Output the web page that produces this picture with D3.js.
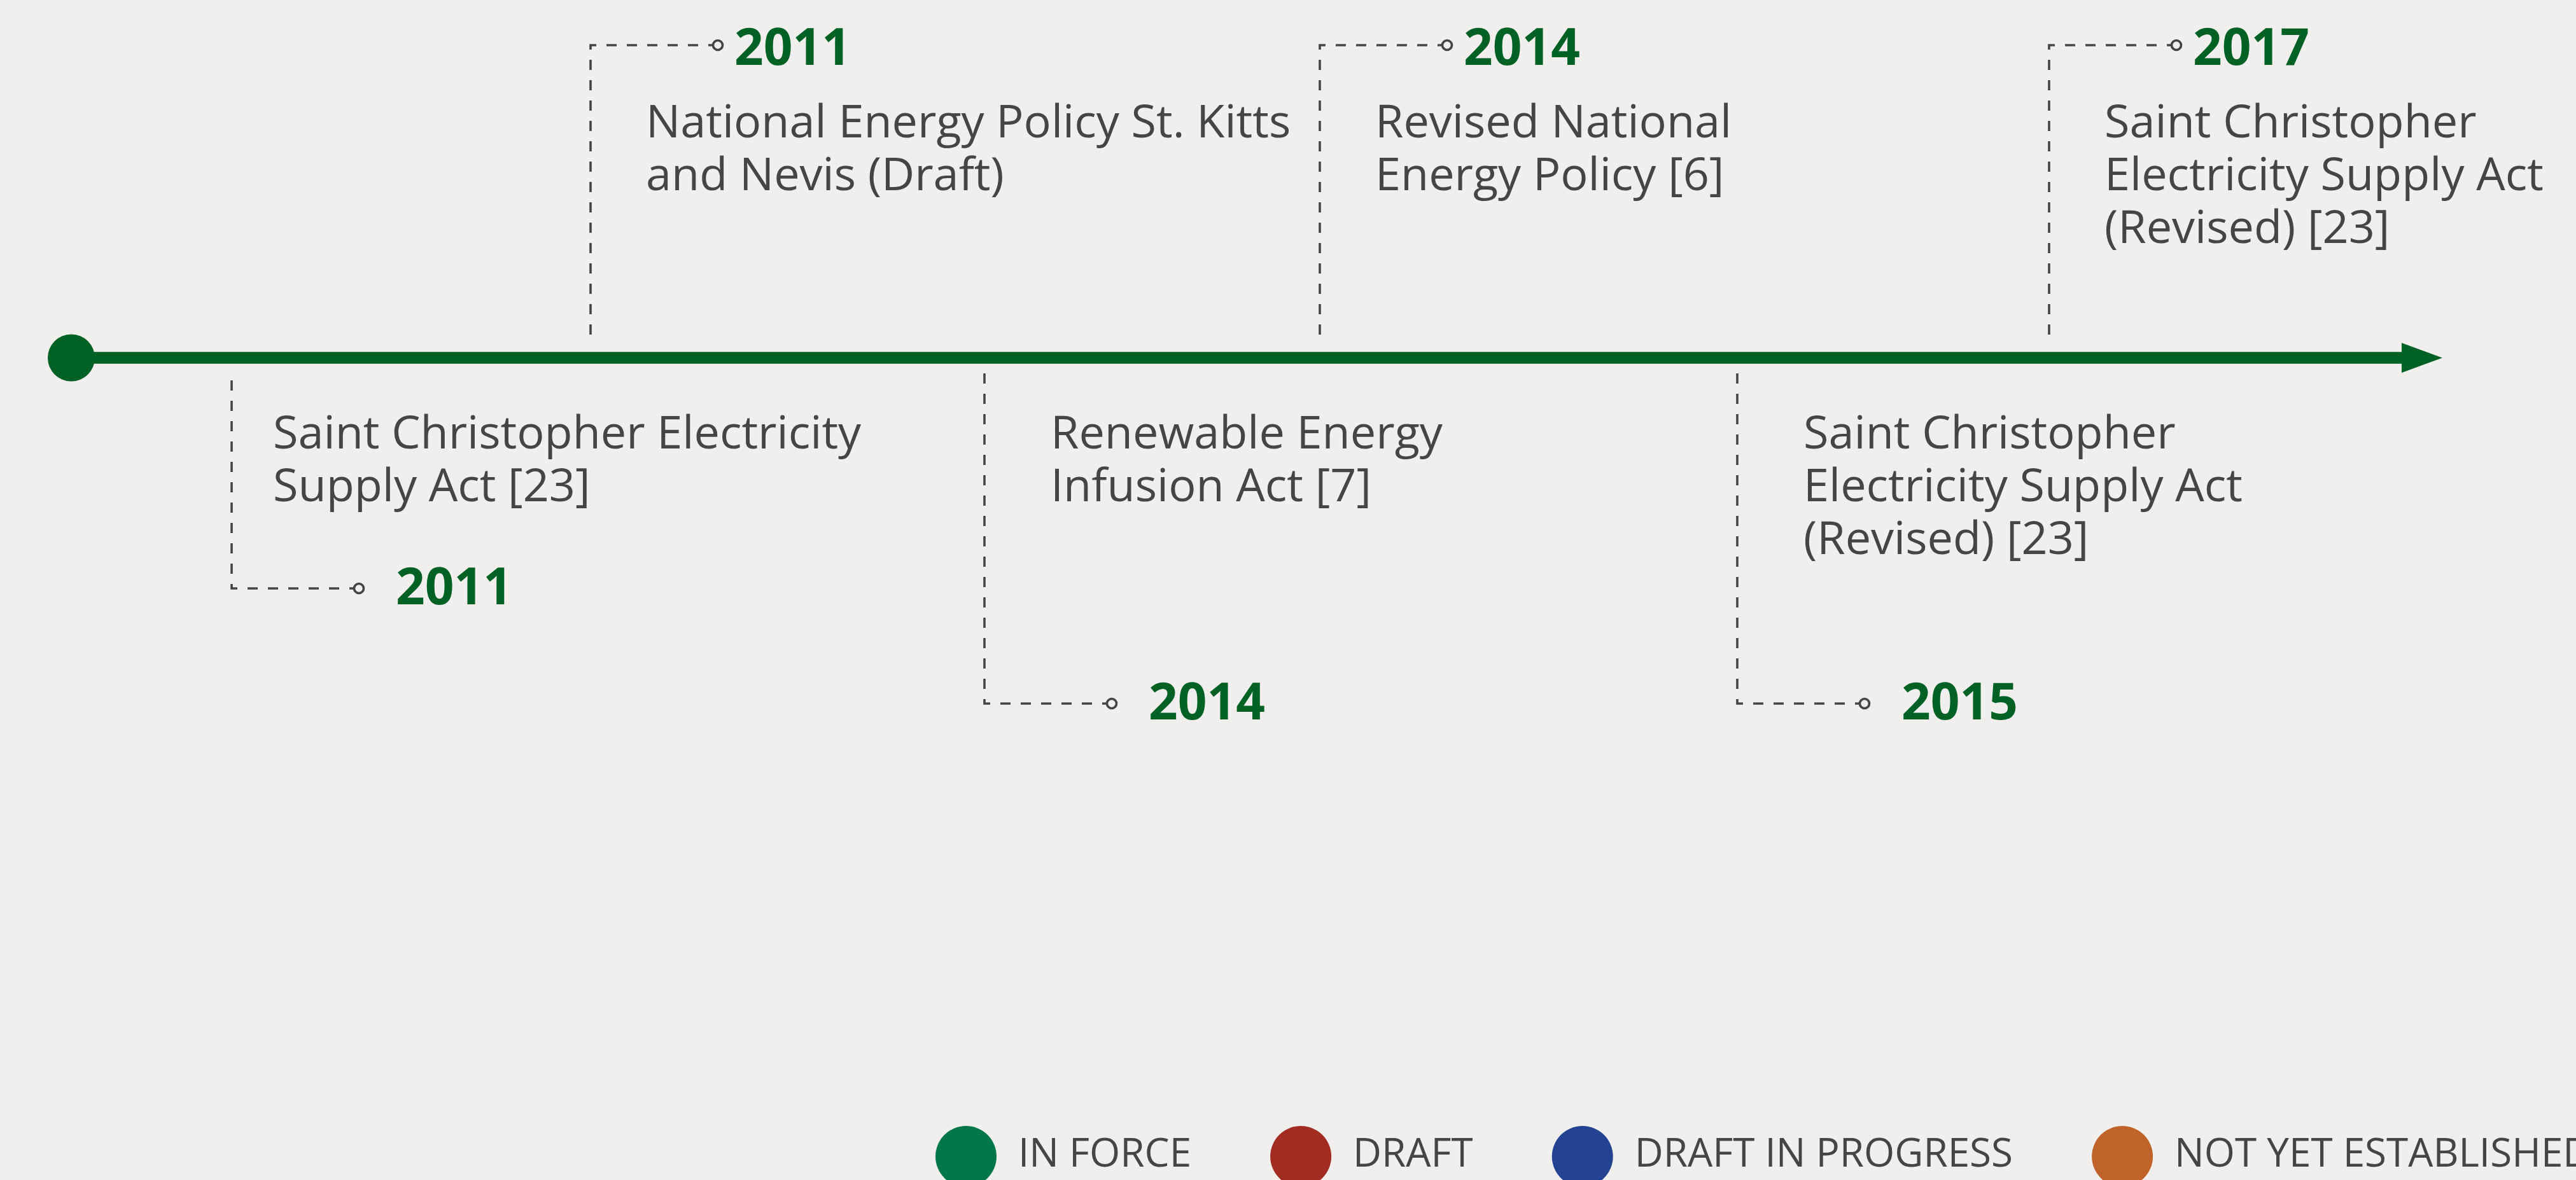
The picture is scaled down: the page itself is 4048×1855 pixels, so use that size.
<!DOCTYPE html>
<html>
<head>
<meta charset="utf-8">
<script src="https://cdn.jsdelivr.net/npm/d3@7"></script>
<style>
  body { margin: 0; background: #f0efed; overflow: hidden; }
  text { font-family: "Open Sans", sans-serif; }
</style>
</head>
<body>
<svg width="4048" height="1855"></svg>
<script>
// timeline events, in order along the arrow
const years = [2011, 2011, 2014, 2014, 2015, 2017];
const sides = ["below", "above", "below", "above", "below", "above"];
const titles = [
  ["Saint Christopher Electricity", "Supply Act [23]"],
  ["National Energy Policy St. Kitts", "and Nevis (Draft)"],
  ["Renewable Energy", "Infusion Act [7]"],
  ["Revised National", "Energy Policy [6]"],
  ["Saint Christopher", "Electricity Supply Act", "(Revised) [23]"],
  ["Saint Christopher", "Electricity Supply Act", "(Revised) [23]"]
];

// legend
const legendLabels = ["IN FORCE", "DRAFT", "DRAFT IN PROGRESS", "NOT YET ESTABLISHED"];
const legendColors = ["#00774a", "#a22b22", "#234291", "#c0632a"];

const svg = d3.select("svg"),
  axisY = 562.5,
  green = "#006124",
  ink = "#454545";

// layout for the hand-placed rows below the axis
const belowDepth = [925, 1106, 1106],
  belowTextDx = [65, 104, 104];

const events = years.map((y, i) => ({ i, year: y, side: sides[i], lines: titles[i] }));
const above = events.filter(d => d.side === "above"),
  below = events.filter(d => d.side === "below");
below.forEach((d, k) => {
  d.depth = belowDepth[k];
  d.textDx = belowTextDx[k];
});

const xAbove = d3.scalePoint().domain(above.map(d => d.i)).range([928, 3220]),
  xBelow = d3.scalePoint().domain(below.map(d => d.i)).range([364, 2730]);
const xPos = d => (d.side === "above" ? xAbove(d.i) : xBelow(d.i));

// main arrow
svg.append("line")
  .attr("x1", 112)
  .attr("x2", 3776)
  .attr("y1", axisY)
  .attr("y2", axisY)
  .attr("stroke", green)
  .attr("stroke-width", 18.5);

svg.append("circle")
  .attr("cx", 112)
  .attr("cy", axisY)
  .attr("r", 37)
  .attr("fill", green);

svg.append("path")
  .attr("d", `M3774,${axisY - 23.5}L3838,${axisY}L3774,${axisY + 23.5}Z`)
  .attr("fill", green);

// event markers
const g = svg.append("g");

const ev = g.selectAll(".event")
  .data(events)
  .enter()
  .append("g")
  .attr("class", "event")
  .attr("transform", d => `translate(${xPos(d)},0)`);

ev.each(function(d) {
  const sel = d3.select(this);
  const up = d.side === "above";
  const y0 = up ? 539 : 587,
    y1 = up ? 71 : d.depth,
    vLen = Math.abs(y1 - y0),
    off = (((7 - vLen) % 32) + 32) % 32;

  sel.append("path")
    .attr("d", `M0,${y0}V${y1}H193`)
    .attr("fill", "none")
    .attr("stroke", "#444")
    .attr("stroke-width", 3.6)
    .attr("stroke-dasharray", "16 16")
    .attr("stroke-dashoffset", off);

  sel.append("circle")
    .attr("cx", 200)
    .attr("cy", y1)
    .attr("r", 7.5)
    .attr("fill", "#f0efed")
    .attr("stroke", "#444")
    .attr("stroke-width", 3.6);

  sel.append("text")
    .attr("x", up ? 226 : 258)
    .attr("y", y1 + (up ? 31 : 25))
    .attr("font-size", "80px")
    .attr("font-weight", 700)
    .attr("fill", green)
    .text(d.year);

  const tx = up ? 87 : d.textDx,
    ty = up ? 215.5 : 705;

  sel.selectAll(".desc")
    .data(d.lines)
    .enter()
    .append("text")
    .attr("class", "desc")
    .attr("x", tx)
    .attr("y", (t, k) => ty + k * 83)
    .attr("font-size", "72px")
    .attr("fill", ink)
    .text(t => t);
});

// legend, laid out by text width
const legend = svg.append("g").attr("class", "legend");
let cx = 1518;
legendLabels.forEach((label, i) => {
  legend.append("circle")
    .attr("cx", cx)
    .attr("cy", 1818)
    .attr("r", 48)
    .attr("fill", legendColors[i]);
  const t = legend.append("text")
    .attr("x", cx + 82)
    .attr("y", 1834)
    .attr("font-size", "62px")
    .attr("fill", ink)
    .text(label);
  cx += 82 + t.node().getComputedTextLength() + 124 + 48;
});
</script>
</body>
</html>
